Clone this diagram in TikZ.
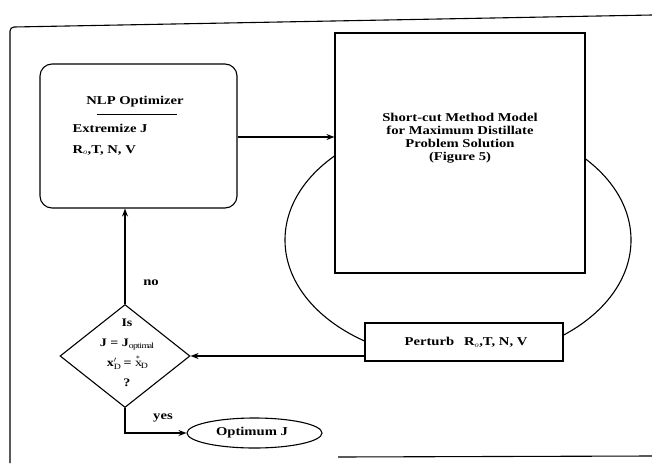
\documentclass[tikz,border=0pt]{standalone}
\usepackage{fontspec}
\setmainfont{Liberation Serif}[FakeStretch=1.22]
\usetikzlibrary{shapes.geometric,arrows.meta}
\begin{document}
\begin{tikzpicture}[x=1pt,y=-1pt,
  line width=1.1pt,
  txt/.style={font=\bfseries\fontsize{12}{13}\selectfont, inner sep=0pt},
  boxw/.style={draw, fill=white, inner sep=0pt},
  arr/.style={-{Stealth[length=8pt,width=6pt]}}]
\useasboundingbox (0,0) rectangle (652,463);
% frame
\draw (10,463) -- (10,31) to[out=90,in=180] (14,27) -- (652,15);
\draw (338,457) -- (652,456);
% loop ellipse behind the model box
\draw (458,240) ellipse [x radius=173, y radius=120];
% nodes
\node[boxw, rounded corners=12pt, minimum width=197pt, minimum height=144pt] (nlp) at (138.5,136) {};
\node[boxw, minimum width=250pt, minimum height=240pt] (model) at (460,153) {};
\node[boxw, minimum width=198pt, minimum height=38pt] (pert) at (464,342) {};
\node[draw, fill=white, shape=diamond, inner sep=0pt, minimum width=130pt, minimum height=103pt] (dia) at (125,356) {};
\node[draw, ellipse, inner sep=0pt, minimum width=135pt, minimum height=30pt] (opt) at (254.5,433) {};
% texts
\node[txt] (t1) at (135,102) {NLP Optimizer};
\draw[line width=0.9pt] (97,114) -- (177,114);
\node[txt, anchor=west] (t2) at (72,128) {Extremize J};
\node[txt, anchor=west] (t3) at (72,150) {R$_o$,T, N, V};
\node[txt, align=center] (t4) at (460,138) {Short-cut Method Model\\for Maximum Distillate\\Problem Solution\\(Figure 5)};
\node[txt] (t5) at (466,342) {Perturb\hspace{10pt}R$_o$,T, N, V};
\node[txt, align=center, font=\bfseries\fontsize{11.5}{20}\selectfont] (t6) at (127,353) {Is\\J = J$_{\mathrm{optimal}}$\\x$'_{\mathrm{D}}$ = $\stackrel{*}{\mathrm{x}}_{\mathrm{D}}$\\?};
\node[txt] (t7) at (252,433) {Optimum J};
\node[txt] (no) at (151,283) {no};
\node[txt] (yes) at (163,418) {yes};
% connectors
\draw[arr] (nlp.east |- 0,137) -- (model.west |- 0,137);
\draw[arr] (dia.north) -- (dia.north |- nlp.south);
\draw[arr] (dia.east -| pert.west) -- (dia.east);
\draw[arr] (dia.south) |- (opt.west);
\end{tikzpicture}
\end{document}
